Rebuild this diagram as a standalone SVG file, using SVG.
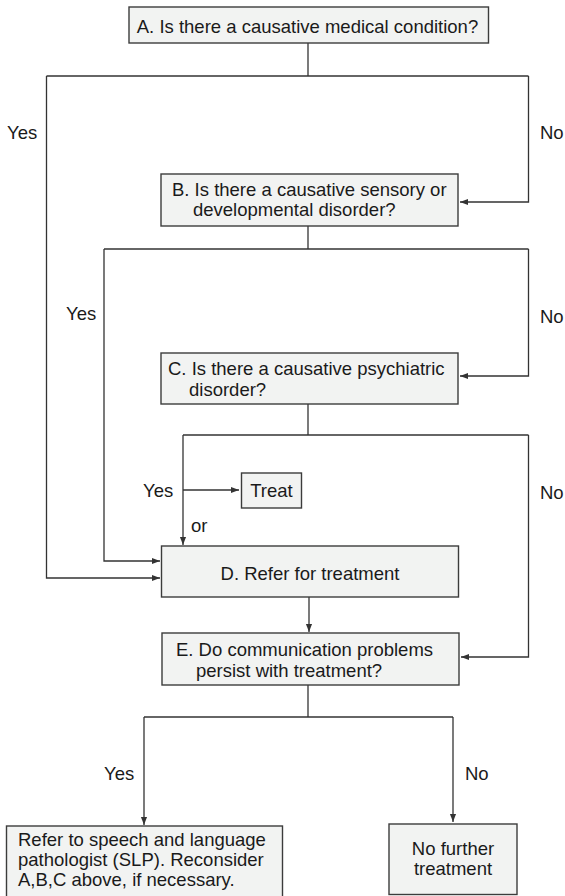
<svg xmlns="http://www.w3.org/2000/svg" width="565" height="896" viewBox="0 0 565 896">
  <style>
    .box { fill: #f2f3f2; stroke: #3c3c3c; stroke-width: 1.4; }
    .wire { fill: none; stroke: #333; stroke-width: 1.3; }
    text { font-family: "Liberation Sans", Arial, sans-serif; font-size: 18.5px; fill: #1a1a1a; }
    .c { text-anchor: middle; }
  </style>
  <defs>
    <marker id="arr" viewBox="0 0 10 10" refX="10" refY="5" markerWidth="8" markerHeight="8" markerUnits="userSpaceOnUse" orient="auto">
      <path d="M0,1.2 L10,5 L0,8.8 Z" fill="#333"/>
    </marker>
  </defs>

  <!-- connectors -->
  <g id="connectors">
    <!-- A branches -->
    <path class="wire" d="M308,43 V76"/>
    <path class="wire" d="M46.5,76 H528.5"/>
    <path class="wire" d="M528.5,76 V202 H460" marker-end="url(#arr)"/>
    <path class="wire" d="M46.5,76 V578 H160" marker-end="url(#arr)"/>
    <!-- B branches -->
    <path class="wire" d="M308,226 V249"/>
    <path class="wire" d="M104,249 H528.5"/>
    <path class="wire" d="M528.5,249 V376 H460" marker-end="url(#arr)"/>
    <path class="wire" d="M104,249 V561 H160" marker-end="url(#arr)"/>
    <!-- C branches -->
    <path class="wire" d="M308,404 V435"/>
    <path class="wire" d="M183,435 H528.5"/>
    <path class="wire" d="M183,435 V545" marker-end="url(#arr)"/>
    <path class="wire" d="M183,490 H239" marker-end="url(#arr)"/>
    <path class="wire" d="M528.5,435 V657 H461" marker-end="url(#arr)"/>
    <!-- D to E -->
    <path class="wire" d="M309,597 V632" marker-end="url(#arr)"/>
    <!-- E branches -->
    <path class="wire" d="M308,685 V717"/>
    <path class="wire" d="M144,717 H453"/>
    <path class="wire" d="M144,717 V825" marker-end="url(#arr)"/>
    <path class="wire" d="M453,717 V822" marker-end="url(#arr)"/>
  </g>

  <!-- branch labels -->
  <g id="labels">
    <text x="7" y="139">Yes</text>
    <text x="540" y="139">No</text>
    <text x="66" y="320">Yes</text>
    <text x="540" y="323">No</text>
    <text x="143" y="497">Yes</text>
    <text x="191" y="532">or</text>
    <text x="540" y="499">No</text>
    <text x="104" y="780">Yes</text>
    <text x="465" y="780">No</text>
  </g>

  <g id="nodeA">
    <rect class="box" x="129" y="7" width="359.5" height="36"/>
    <text class="c" x="307.5" y="32.5">A. Is there a causative medical condition?</text>
  </g>

  <g id="nodeB">
    <rect class="box" x="161" y="174" width="297" height="52"/>
    <text x="172" y="195.5">B. Is there a causative sensory or</text>
    <text x="193" y="216">developmental disorder?</text>
  </g>

  <g id="nodeC">
    <rect class="box" x="161" y="353" width="297" height="51"/>
    <text x="168" y="374.5">C. Is there a causative psychiatric</text>
    <text x="189" y="395.5">disorder?</text>
  </g>

  <g id="nodeTreat">
    <rect class="box" x="241.5" y="473" width="60" height="35"/>
    <text class="c" x="271.5" y="497">Treat</text>
  </g>

  <g id="nodeD">
    <rect class="box" x="161.5" y="546" width="297" height="51"/>
    <text class="c" x="310" y="579.5">D. Refer for treatment</text>
  </g>

  <g id="nodeE">
    <rect class="box" x="162" y="633" width="297" height="52"/>
    <text x="176" y="656">E. Do communication problems</text>
    <text x="196" y="676.5">persist with treatment?</text>
  </g>

  <g id="nodeSLP">
    <rect class="box" x="6.5" y="826" width="276" height="74"/>
    <text x="18" y="846">Refer to speech and language</text>
    <text x="18" y="866">pathologist (SLP). Reconsider</text>
    <text x="18" y="886">A,B,C above, if necessary.</text>
  </g>

  <g id="nodeNoFurther">
    <rect class="box" x="389" y="824" width="128" height="70.5"/>
    <text class="c" x="453" y="855">No further</text>
    <text class="c" x="453" y="875">treatment</text>
  </g>
</svg>
